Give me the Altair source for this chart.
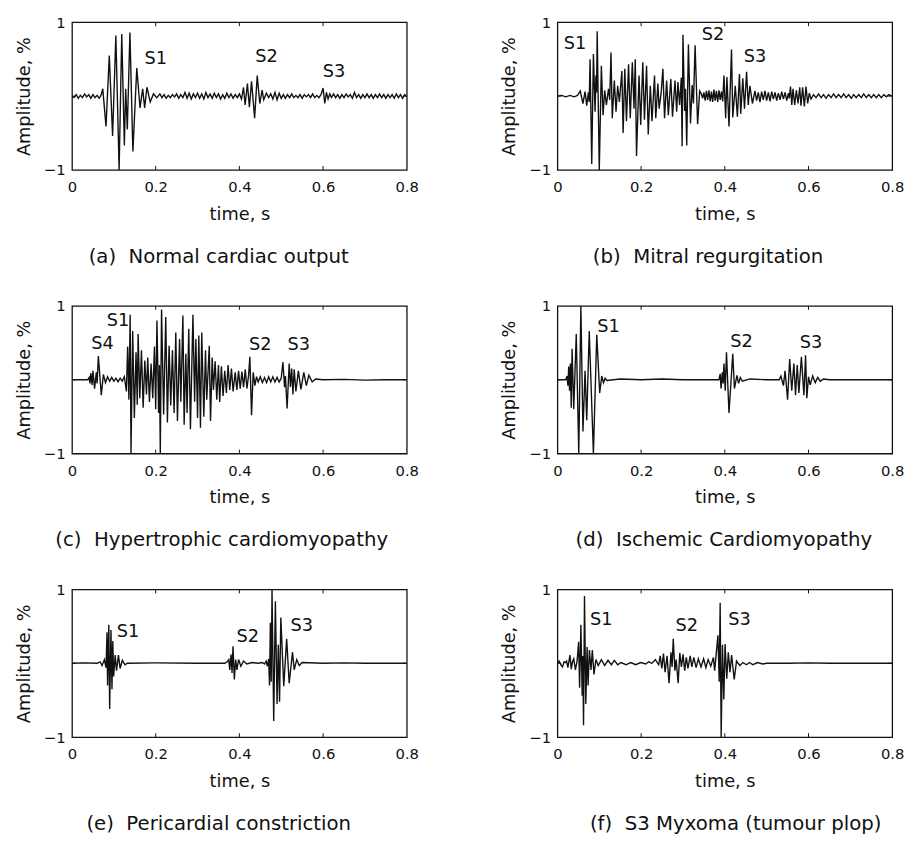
import altair as alt
import pandas as pd

# ---------------- data (time s, amplitude %) ----------------
wave_a = [
    (0.000, 0.00), (0.005, -0.02), (0.010, 0.02), (0.015, -0.03), (0.020, 0.01), (0.025, -0.02),
    (0.030, 0.03), (0.035, -0.01), (0.040, 0.02), (0.045, -0.03), (0.050, 0.02), (0.055, -0.02),
    (0.060, 0.01), (0.065, -0.03), (0.070, 0.02),
    (0.0735, 0.10), (0.0813, -0.41), (0.0891, 0.55), (0.0970, -0.54), (0.1048, 0.82), (0.1126, -1.0),
    (0.1189, 0.84), (0.1251, -0.67), (0.1283, 0.10), (0.1322, -0.45), (0.1384, 0.86), (0.1455, -0.75),
    (0.1548, 0.38), (0.1626, -0.16), (0.1689, 0.10), (0.1736, -0.16), (0.1791, 0.12), (0.1869, -0.08),
    (0.1947, 0.03), (0.2025, -0.02),
    (0.210, 0.03), (0.215, -0.02), (0.220, 0.02), (0.225, -0.03), (0.230, 0.01), (0.235, -0.02),
    (0.240, 0.02), (0.245, -0.01), (0.250, 0.03), (0.255, -0.03), (0.260, 0.02), (0.265, -0.02),
    (0.270, 0.05), (0.275, -0.03), (0.280, 0.04), (0.285, -0.04), (0.290, 0.03), (0.295, -0.02),
    (0.300, 0.04), (0.305, -0.03), (0.310, 0.03), (0.315, -0.04), (0.320, 0.05), (0.325, -0.02),
    (0.330, 0.03), (0.335, -0.03), (0.340, 0.04), (0.345, -0.02), (0.350, 0.03), (0.355, -0.04),
    (0.360, 0.02), (0.365, -0.03), (0.370, 0.04), (0.375, -0.02), (0.380, 0.03), (0.385, -0.03),
    (0.390, 0.02), (0.395, -0.02), (0.400, 0.03), (0.405, -0.04),
    (0.4098, 0.12), (0.4137, -0.12), (0.4192, 0.17), (0.4239, -0.15), (0.4290, 0.20), (0.4364, -0.30),
    (0.4426, 0.28), (0.4488, -0.10), (0.4543, 0.08), (0.4582, -0.05), (0.4645, 0.04),
    (0.470, -0.02), (0.475, 0.03), (0.480, -0.04), (0.485, 0.05), (0.490, -0.05), (0.495, 0.04),
    (0.500, -0.03), (0.505, 0.02), (0.510, -0.03), (0.515, 0.02), (0.520, -0.02), (0.525, 0.03),
    (0.530, -0.02), (0.535, 0.01), (0.540, -0.02), (0.545, 0.02), (0.550, -0.03), (0.555, 0.02),
    (0.560, -0.01), (0.565, 0.02), (0.570, -0.02), (0.575, 0.03), (0.580, -0.02), (0.585, 0.01),
    (0.590, -0.02), (0.595, 0.02),
    (0.600, 0.11), (0.604, -0.10), (0.608, 0.05), (0.612, -0.04), (0.616, 0.03),
    (0.620, -0.02), (0.625, 0.03), (0.630, -0.02), (0.635, 0.02), (0.640, -0.03), (0.645, 0.02),
    (0.650, -0.02), (0.655, 0.03), (0.660, -0.01), (0.665, 0.02), (0.670, -0.03), (0.675, 0.05),
    (0.680, -0.02), (0.685, 0.02), (0.690, -0.03), (0.695, 0.02), (0.700, -0.02), (0.705, 0.03),
    (0.710, -0.02), (0.715, 0.02), (0.720, -0.03), (0.725, 0.02), (0.730, -0.02), (0.735, 0.03),
    (0.740, -0.02), (0.745, 0.02), (0.750, -0.03), (0.755, 0.02), (0.760, -0.02), (0.765, 0.02),
    (0.770, -0.03), (0.775, 0.03), (0.780, -0.02), (0.785, 0.02), (0.790, -0.03), (0.795, 0.02),
    (0.800, -0.01),
]

wave_b = [
    (0.000, 0.00), (0.010, 0.01), (0.020, -0.01), (0.030, 0.01), (0.040, -0.01), (0.048, 0.01),
    (0.0545, 0.07), (0.061, -0.10), (0.066, 0.06), (0.070, -0.13), (0.074, 0.05), (0.076, -0.08),
    (0.078, 0.50), (0.082, -0.92), (0.086, 0.57), (0.090, -0.21), (0.092, 0.28), (0.0935, 0.05),
    (0.095, 0.88), (0.100, -1.0), (0.105, 0.41), (0.109, -0.26), (0.113, 0.08), (0.117, -0.12),
    (0.122, 0.10), (0.125, -0.05), (0.128, 0.59), (0.131, -0.30), (0.136, 0.21), (0.140, -0.21),
    (0.144, 0.14), (0.148, -0.08), (0.154, 0.34), (0.157, -0.50), (0.161, 0.37), (0.165, -0.34),
    (0.170, 0.43), (0.174, -0.30), (0.179, 0.46), (0.183, -0.17), (0.186, 0.50), (0.189, -0.81),
    (0.195, 0.28), (0.199, -0.39), (0.204, 0.46), (0.208, -0.32), (0.213, 0.41), (0.217, -0.52),
    (0.222, 0.14), (0.226, -0.34), (0.232, 0.28), (0.235, -0.30), (0.240, 0.17), (0.243, -0.17),
    (0.248, 0.05), (0.252, 0.37), (0.256, -0.30), (0.261, 0.21), (0.265, -0.26), (0.271, 0.23),
    (0.275, -0.28), (0.281, 0.21), (0.285, -0.21), (0.288, 0.19), (0.292, -0.12), (0.296, 0.25),
    (0.298, -0.68), (0.300, 0.83), (0.304, -0.20), (0.306, 0.10), (0.309, -0.67), (0.313, 0.70),
    (0.318, -0.37), (0.322, 0.15), (0.325, -0.10), (0.329, 0.69), (0.335, -0.38), (0.340, 0.07),
    (0.344, 0.03), (0.347, -0.03),
    (0.350, 0.05), (0.353, -0.06), (0.356, 0.07), (0.359, -0.05), (0.362, 0.08), (0.365, -0.07),
    (0.368, 0.06), (0.371, -0.08), (0.374, 0.09), (0.377, -0.06), (0.380, 0.07), (0.383, -0.08),
    (0.386, 0.08), (0.389, -0.05), (0.392, 0.06), (0.395, -0.07),
    (0.398, 0.28), (0.402, -0.30), (0.405, 0.26), (0.410, -0.41), (0.416, 0.63), (0.419, -0.29),
    (0.425, 0.14), (0.430, -0.28), (0.435, 0.30), (0.438, -0.24), (0.443, 0.24), (0.447, -0.17),
    (0.452, 0.33), (0.456, -0.12), (0.460, 0.14), (0.466, -0.10), (0.472, 0.07),
    (0.476, -0.06), (0.480, 0.05), (0.484, -0.08), (0.488, 0.06), (0.492, -0.05), (0.496, 0.07),
    (0.500, -0.06), (0.504, 0.05), (0.508, -0.07), (0.512, 0.06), (0.516, -0.04), (0.520, 0.05),
    (0.524, -0.06), (0.528, 0.04), (0.532, -0.05), (0.536, 0.06), (0.540, -0.04), (0.544, 0.05),
    (0.548, -0.06), (0.552, 0.04), (0.554, -0.03),
    (0.557, 0.13), (0.560, -0.12), (0.563, 0.10), (0.567, -0.12), (0.571, 0.08), (0.575, -0.10),
    (0.579, 0.12), (0.582, -0.13), (0.586, 0.12), (0.590, -0.14), (0.594, 0.13), (0.598, -0.10),
    (0.602, 0.04), (0.606, -0.04),
    (0.612, 0.02), (0.618, -0.02), (0.624, 0.03), (0.630, -0.02), (0.636, 0.02), (0.642, -0.03),
    (0.648, 0.02), (0.654, -0.02), (0.660, 0.03), (0.666, -0.02), (0.672, 0.02), (0.678, -0.02),
    (0.684, 0.03), (0.690, -0.02), (0.696, 0.02), (0.702, -0.03), (0.708, 0.02), (0.714, -0.02),
    (0.720, 0.02), (0.726, -0.02), (0.732, 0.03), (0.738, -0.02), (0.744, 0.02), (0.750, -0.02),
    (0.756, 0.02), (0.762, -0.02), (0.768, 0.02), (0.774, -0.02), (0.780, 0.02), (0.786, -0.01),
    (0.792, 0.02), (0.800, 0.00),
]

wave_c = [
    (0.000, 0.00), (0.020, 0.00), (0.038, 0.00),
    (0.041, 0.03), (0.043, -0.05), (0.045, 0.09), (0.048, -0.07), (0.050, 0.12), (0.054, -0.12),
    (0.058, 0.10), (0.060, -0.05), (0.063, 0.32), (0.070, -0.21), (0.075, 0.07), (0.080, -0.04),
    (0.085, 0.04), (0.090, -0.02), (0.095, 0.03), (0.100, -0.02), (0.105, 0.02), (0.110, -0.03),
    (0.115, 0.02), (0.120, -0.02), (0.125, 0.04),
    (0.130, -0.16), (0.133, 0.45), (0.136, -0.27), (0.139, 0.88), (0.141, -1.0), (0.145, 0.66),
    (0.149, -0.52), (0.153, 0.37), (0.156, -0.34), (0.158, 0.62), (0.162, -0.25), (0.166, 0.40),
    (0.170, -0.38), (0.174, 0.26), (0.178, -0.20), (0.181, 0.30), (0.185, -0.30), (0.189, 0.22),
    (0.193, -0.25), (0.197, 0.45), (0.200, -0.40), (0.203, 0.80), (0.207, -0.45), (0.209, 0.20),
    (0.211, -1.0), (0.214, 0.95), (0.219, -0.47), (0.224, 0.85), (0.228, -0.58), (0.232, 0.46),
    (0.236, -0.35), (0.240, 0.40), (0.244, -0.45), (0.248, 0.64), (0.252, -0.56), (0.257, 0.55),
    (0.260, -0.30), (0.265, 0.87), (0.268, -0.61), (0.272, 0.35), (0.275, -0.45), (0.279, 0.69),
    (0.283, -0.67), (0.289, 0.88), (0.293, -0.30), (0.296, 0.55), (0.300, -0.52), (0.303, 0.60),
    (0.307, -0.65), (0.310, 0.64), (0.315, -0.50), (0.319, 0.40), (0.322, -0.27), (0.328, 0.46),
    (0.331, -0.56), (0.335, 0.30), (0.338, -0.14), (0.342, 0.25), (0.346, -0.27), (0.350, 0.20),
    (0.353, -0.30), (0.357, 0.18), (0.361, -0.22), (0.365, 0.12), (0.369, -0.18), (0.373, 0.20),
    (0.377, -0.14), (0.381, 0.15), (0.385, -0.16), (0.390, 0.10), (0.394, -0.14), (0.398, 0.12),
    (0.402, -0.12), (0.406, 0.11), (0.410, -0.10), (0.414, 0.14), (0.418, -0.12), (0.422, 0.06),
    (0.425, 0.31), (0.429, -0.48), (0.433, 0.10), (0.437, -0.08), (0.441, 0.04),
    (0.445, -0.03), (0.450, 0.04), (0.455, -0.04), (0.460, 0.03), (0.465, -0.04), (0.470, 0.04),
    (0.475, -0.03), (0.480, 0.04), (0.485, -0.03), (0.490, 0.03), (0.495, -0.03), (0.500, 0.02),
    (0.504, 0.24), (0.508, -0.10), (0.510, 0.05), (0.514, -0.39), (0.519, 0.22), (0.522, -0.10),
    (0.525, 0.15), (0.528, -0.20), (0.531, 0.14), (0.535, -0.16), (0.541, 0.12), (0.547, -0.13),
    (0.554, 0.10), (0.560, -0.08), (0.566, 0.06), (0.574, -0.03), (0.582, 0.01),
    (0.600, 0.00), (0.650, 0.005), (0.700, -0.005), (0.750, 0.00), (0.800, 0.00),
]

wave_d = [
    (0.000, 0.00), (0.020, 0.00), (0.023, 0.05), (0.025, -0.08), (0.027, 0.18), (0.029, -0.15),
    (0.031, 0.22), (0.033, -0.38), (0.035, 0.42), (0.039, -0.40), (0.045, 0.62), (0.051, -1.0),
    (0.056, 1.0), (0.061, -0.70), (0.066, 0.12), (0.070, -0.55), (0.076, 0.66), (0.086, -1.0),
    (0.094, 0.61), (0.101, -0.18), (0.106, 0.05), (0.110, -0.04), (0.114, 0.02), (0.118, -0.01),
    (0.150, 0.01), (0.200, 0.00), (0.250, 0.01), (0.300, 0.00), (0.350, 0.00), (0.386, 0.00),
    (0.389, 0.08), (0.391, -0.12), (0.394, 0.10), (0.396, -0.05), (0.398, 0.22), (0.401, -0.15),
    (0.404, 0.37), (0.410, -0.45), (0.419, 0.35), (0.423, -0.12), (0.429, 0.06), (0.433, -0.05),
    (0.437, 0.03), (0.442, -0.02), (0.460, 0.01), (0.500, 0.00), (0.530, 0.00),
    (0.534, 0.05), (0.540, -0.08), (0.544, 0.12), (0.550, -0.27), (0.555, 0.28), (0.560, -0.15),
    (0.565, 0.22), (0.569, -0.21), (0.573, 0.20), (0.577, -0.18), (0.583, 0.31), (0.589, -0.21),
    (0.593, 0.33), (0.596, -0.25), (0.600, 0.04), (0.604, -0.07), (0.610, 0.05), (0.616, -0.04),
    (0.622, 0.03), (0.628, -0.02), (0.636, 0.01), (0.650, 0.00), (0.700, 0.00), (0.750, 0.00),
    (0.800, 0.00),
]

wave_e = [
    (0.000, 0.00), (0.030, 0.005), (0.060, 0.00), (0.0672, 0.02), (0.0719, -0.03), (0.0774, 0.05),
    (0.0813, -0.06), (0.0837, 0.42), (0.0850, -0.30), (0.0880, 0.52), (0.0900, -0.62),
    (0.0931, 0.45), (0.0955, -0.35), (0.0975, 0.30), (0.0995, -0.18), (0.1032, 0.11),
    (0.1064, -0.10), (0.1110, 0.11), (0.1150, -0.07), (0.1204, 0.04), (0.1267, -0.02),
    (0.1322, 0.00), (0.200, 0.005), (0.300, 0.00), (0.365, 0.00),
    (0.3707, 0.02), (0.3746, 0.05), (0.3770, -0.09), (0.3801, 0.12), (0.3824, -0.13),
    (0.3847, 0.23), (0.3879, -0.22), (0.3910, 0.05), (0.3941, -0.09), (0.3981, 0.05),
    (0.4035, -0.04), (0.4098, 0.03), (0.4176, -0.01), (0.430, 0.01), (0.445, 0.00),
    (0.455, 0.01), (0.460, -0.01), (0.464, 0.03), (0.467, -0.04), (0.470, 0.06), (0.472, -0.30),
    (0.474, 0.55), (0.476, -0.25), (0.478, 1.0), (0.482, -0.78), (0.486, 0.84), (0.490, -0.55),
    (0.493, 0.25), (0.496, -0.52), (0.499, 0.62), (0.506, -0.31), (0.513, 0.33), (0.519, -0.27),
    (0.527, 0.15), (0.531, -0.09), (0.537, 0.05), (0.543, -0.03), (0.550, 0.01),
    (0.600, 0.00), (0.650, 0.005), (0.700, 0.00), (0.750, 0.00), (0.800, 0.00),
]

wave_f = [
    (0.000, 0.00), (0.004, 0.03), (0.008, -0.02), (0.012, -0.05), (0.016, 0.02), (0.019, 0.01),
    (0.022, 0.03), (0.025, -0.06), (0.030, 0.11), (0.033, -0.08), (0.036, 0.02), (0.039, 0.06),
    (0.043, -0.09), (0.047, 0.03),
    (0.0507, 0.29), (0.0530, -0.33), (0.0561, 0.52), (0.0592, -0.44), (0.0605, 0.10),
    (0.0624, -0.84), (0.0647, 0.91), (0.0678, -0.55), (0.0709, 0.22), (0.0733, -0.30),
    (0.0764, 0.18), (0.0803, -0.09), (0.0834, 0.18), (0.0873, -0.15), (0.0920, 0.05),
    (0.0975, -0.03),
    (0.105, 0.05), (0.113, -0.03), (0.121, 0.04), (0.129, -0.02), (0.136, 0.04), (0.144, -0.02),
    (0.152, 0.01), (0.164, -0.02), (0.175, 0.01), (0.187, -0.02), (0.199, 0.01), (0.211, -0.01),
    (0.218, 0.02), (0.226, 0.00), (0.234, 0.05), (0.242, -0.02),
    (0.2456, 0.10), (0.2495, -0.07), (0.2534, 0.13), (0.2573, -0.12), (0.2620, 0.10),
    (0.2667, -0.27), (0.2713, 0.15), (0.2740, -0.05), (0.2768, 0.33), (0.2807, -0.10),
    (0.2838, 0.05), (0.2885, -0.27), (0.2924, 0.14), (0.2963, -0.05), (0.3002, 0.12),
    (0.3041, -0.10), (0.3080, 0.08), (0.3119, -0.07), (0.3173, 0.10), (0.3212, -0.05),
    (0.3259, 0.08), (0.3314, -0.06), (0.3368, 0.06), (0.3431, -0.05), (0.3493, 0.06),
    (0.3548, -0.06), (0.3602, 0.05), (0.3665, -0.04), (0.3727, 0.08), (0.3758, -0.10),
    (0.3835, 0.38), (0.3866, -0.25), (0.3889, 0.82), (0.3913, -1.0), (0.3944, 0.25),
    (0.3976, -0.49), (0.4006, 0.26), (0.4046, -0.21), (0.4084, 0.15), (0.4123, -0.12),
    (0.4163, 0.11), (0.4224, -0.22), (0.4280, 0.03), (0.4357, -0.03), (0.4434, 0.01),
    (0.4514, -0.02), (0.4591, 0.01), (0.4668, -0.02), (0.4785, 0.01), (0.4902, -0.01),
    (0.500, 0.00), (0.550, 0.00), (0.600, 0.005), (0.650, 0.00), (0.700, 0.00), (0.750, 0.00),
    (0.800, 0.00),
]

labels_a = [("S1", 0.20, 0.50), ("S2", 0.465, 0.53), ("S3", 0.626, 0.33)]
labels_b = [("S1", 0.042, 0.71), ("S2", 0.372, 0.82), ("S3", 0.472, 0.53)]
labels_c = [("S4", 0.073, 0.48), ("S1", 0.110, 0.80), ("S2", 0.450, 0.47), ("S3", 0.542, 0.47)]
labels_d = [("S1", 0.122, 0.71), ("S2", 0.440, 0.51), ("S3", 0.606, 0.49)]
labels_e = [("S1", 0.134, 0.42), ("S2", 0.420, 0.36), ("S3", 0.549, 0.51)]
labels_f = [("S1", 0.105, 0.59), ("S2", 0.309, 0.50), ("S3", 0.435, 0.59)]

captions = [
    "(a)\u00a0\u00a0Normal cardiac output",
    "(b)\u00a0\u00a0Mitral regurgitation",
    "(c)\u00a0\u00a0Hypertrophic cardiomyopathy",
    "(d)\u00a0\u00a0Ischemic Cardiomyopathy",
    "(e)\u00a0\u00a0Pericardial constriction",
    "(f)\u00a0\u00a0S3 Myxoma (tumour plop)",
]
caption_dx = [-21, -17, -18, -1, -21, 11]

x_tick_values = [0, 0.2, 0.4, 0.6, 0.8]
y_tick_values = [-1, 0, 1]
x_inner_ticks = [0.2, 0.4, 0.6]
y_inner_ticks = [0]

# ---------------- chart ----------------
FONT = "DejaVu Sans"
W, H = 340, 150
TICK = 4
INK = "#111111"

xs = alt.Scale(domain=[0, 0.8], nice=False, zero=False)
ys = alt.Scale(domain=[-1, 1], nice=False, zero=False)
X_AXIS = alt.Axis(title="time, s", values=x_tick_values, format="~g", labelFlush=False)
Y_AXIS = alt.Axis(title="Amplitude, %", values=y_tick_values, format="d", labelFlush=False)


def X():
    return alt.X("t:Q", scale=xs, axis=X_AXIS)


def Y():
    return alt.Y("a:Q", scale=ys, axis=Y_AXIS)


def panel(wave, labels, caption, dx):
    df = pd.DataFrame(wave, columns=["t", "a"])
    lab = pd.DataFrame(labels, columns=["s", "t", "a"])
    xt = pd.DataFrame({"t": x_inner_ticks})
    yt = pd.DataFrame({"a": y_inner_ticks})

    line = alt.Chart(df).mark_line(color=INK, strokeWidth=1.4, clip=True).encode(x=X(), y=Y())
    text = alt.Chart(lab).mark_text(font=FONT, fontSize=18, color=INK, align="center",
                                    baseline="middle").encode(x=X(), y=Y(), text="s:N")
    tb = alt.Chart(xt).mark_rule(color=INK, strokeWidth=1).encode(
        x=X(), y=alt.value(H), y2=alt.value(H - TICK))
    tt = alt.Chart(xt).mark_rule(color=INK, strokeWidth=1).encode(
        x=X(), y=alt.value(0), y2=alt.value(TICK))
    tl = alt.Chart(yt).mark_rule(color=INK, strokeWidth=1).encode(
        y=Y(), x=alt.value(0), x2=alt.value(TICK))
    tr = alt.Chart(yt).mark_rule(color=INK, strokeWidth=1).encode(
        y=Y(), x=alt.value(W), x2=alt.value(W - TICK))

    return alt.layer(line, tb, tt, tl, tr, text).properties(
        width=W, height=H,
        title=alt.TitleParams(caption, orient="bottom", anchor="middle", dx=dx, offset=24,
                              font=FONT, fontSize=20, fontWeight="normal", color=INK),
    )


waves = [wave_a, wave_b, wave_c, wave_d, wave_e, wave_f]
labs = [labels_a, labels_b, labels_c, labels_d, labels_e, labels_f]
panels = [panel(w, l, c, d) for w, l, c, d in zip(waves, labs, captions, caption_dx)]

rows = [alt.hconcat(panels[i], panels[i + 1], spacing=82) for i in (0, 2, 4)]
chart = alt.vconcat(*rows, spacing=31).configure_view(
    stroke=INK, strokeWidth=1.3
).configure_axis(
    ticks=False, domain=False, grid=False,
    labelFont=FONT, labelFontSize=15, labelColor=INK,
    titleFont=FONT, titleFontSize=18, titleFontWeight="normal", titleColor=INK,
).configure_axisX(
    labelPadding=10, titlePadding=11,
).configure_axisY(
    labelPadding=7, titlePadding=10,
).properties(padding={"left": 7, "top": 0, "right": 0, "bottom": 0})

chart.save("out.html", embed_options={"renderer": "svg", "actions": False})
